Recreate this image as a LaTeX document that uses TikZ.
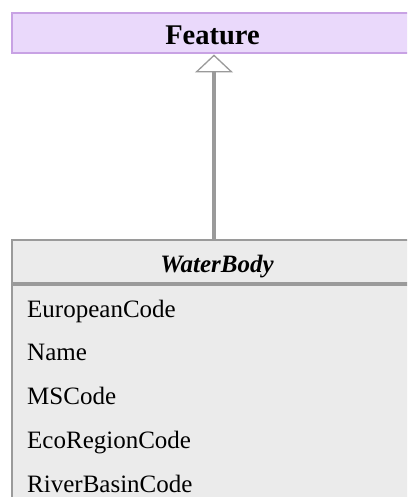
\documentclass[tikz,border=0pt]{standalone}
\usepackage{fontspec}
\setmainfont{Liberation Serif}
\usetikzlibrary{arrows.meta}

\definecolor{featfill}{HTML}{EAD9FB}
\definecolor{featline}{HTML}{C8A2E4}
\definecolor{bodyfill}{HTML}{EBEBEB}
\definecolor{bodyline}{HTML}{9A9A9A}

\tikzset{
  featbox/.style={draw=featline, fill=featfill, line width=2pt, inner sep=0pt,
    minimum width=401pt, minimum height=40pt, text height=23pt, text depth=0pt,
    font=\fontsize{28.5}{30}\selectfont\bfseries},
  classhead/.style={draw=bodyline, fill=bodyfill, line width=2pt, inner sep=0pt,
    minimum width=410pt, minimum height=43pt, text height=21pt, text depth=0pt,
    font=\fontsize{25}{26}\selectfont\bfseries\itshape},
  classbody/.style={draw=bodyline, fill=bodyfill, line width=2pt, inner sep=0pt,
    minimum width=410pt, minimum height=250pt},
  attr/.style={anchor=base west, inner sep=0pt, font=\fontsize{25}{26}\selectfont},
  inherit/.style={draw=bodyline, line width=4.5pt,
    -{Triangle[open, fill=white, length=18pt, width=38pt, line width=1.3pt]}}
}

\begin{document}
\begin{tikzpicture}[x=1pt,y=-1pt]
\useasboundingbox (0,0) rectangle (407,497);
\clip (0,0) rectangle (407,497);

\node[featbox] (feature) at (212.5,33.5) {Feature};

\node[classhead] (waterbody) at (217,261.5) {WaterBody};
\node[classbody, anchor=north west] (attrs) at (waterbody.south west) {};

\foreach \name [count=\i] in {EuropeanCode,Name,MSCode,EcoRegionCode,RiverBasinCode}{
	\node[attr] (attr\i) at (27,{317+43.75*(\i-1)}) {\name};
	}

\draw[inherit] ([xshift=-3pt]waterbody.north) -- ([xshift=1.5pt]feature.south);
\end{tikzpicture}
\end{document}
